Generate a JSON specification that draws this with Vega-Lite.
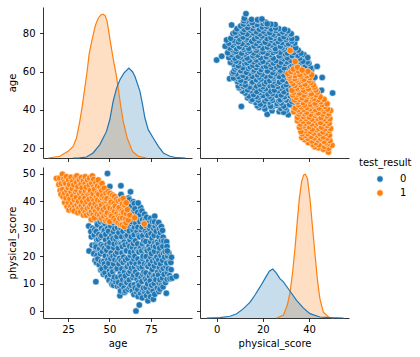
{
  "$schema": "https://vega.github.io/schema/vega-lite/v6.json",
  "padding": {"left": 7, "top": 7, "right": 2, "bottom": 2},
  "config": {
    "font": "DejaVu Sans",
    "view": {"stroke": null},
    "axis": {"grid": false, "domainColor": "#000000", "domainWidth": 0.8, "tickColor": "#000000", "tickWidth": 0.8, "tickSize": 3.5, "labelFontSize": 10, "labelColor": "#000000", "titleFontSize": 10, "titleFontWeight": "normal", "titleColor": "#000000", "labelFlush": false, "labelOverlap": false},
    "axisX": {"labelPadding": 3, "titlePadding": 4},
    "axisY": {"labelPadding": 4.5, "titlePadding": 5}
  },
  "datasets": {
    "kde_age": [
      {"x": 13.1, "d": 0, "result": "1"}, {"x": 20.0, "d": 0.012, "result": "1"}, {"x": 25.0, "d": 0.046, "result": "1"}, {"x": 28.1, "d": 0.081, "result": "1"}, {"x": 30.1, "d": 0.139, "result": "1"}, {"x": 32.1, "d": 0.255, "result": "1"}, {"x": 33.7, "d": 0.37, "result": "1"}, {"x": 35.1, "d": 0.486, "result": "1"}, {"x": 36.5, "d": 0.6, "result": "1"}, {"x": 37.7, "d": 0.72, "result": "1"}, {"x": 39.7, "d": 0.833, "result": "1"}, {"x": 41.6, "d": 0.926, "result": "1"}, {"x": 43.2, "d": 0.972, "result": "1"}, {"x": 44.8, "d": 0.995, "result": "1"}, {"x": 46.2, "d": 1.0, "result": "1"}, {"x": 47.4, "d": 0.99, "result": "1"}, {"x": 48.6, "d": 0.95, "result": "1"}, {"x": 50.2, "d": 0.833, "result": "1"}, {"x": 51.8, "d": 0.72, "result": "1"}, {"x": 52.9, "d": 0.65, "result": "1"}, {"x": 53.9, "d": 0.59, "result": "1"}, {"x": 55.3, "d": 0.486, "result": "1"}, {"x": 56.7, "d": 0.37, "result": "1"}, {"x": 58.3, "d": 0.255, "result": "1"}, {"x": 60.7, "d": 0.139, "result": "1"}, {"x": 63.9, "d": 0.046, "result": "1"}, {"x": 67.4, "d": 0.012, "result": "1"}, {"x": 72.4, "d": 0, "result": "1"},
      {"x": 28.0, "d": 0, "result": "0"}, {"x": 32.0, "d": 0.001, "result": "0"}, {"x": 36.1, "d": 0.007, "result": "0"}, {"x": 40.1, "d": 0.035, "result": "0"}, {"x": 44.2, "d": 0.093, "result": "0"}, {"x": 48.2, "d": 0.185, "result": "0"}, {"x": 50.2, "d": 0.266, "result": "0"}, {"x": 52.2, "d": 0.394, "result": "0"}, {"x": 54.3, "d": 0.486, "result": "0"}, {"x": 56.3, "d": 0.544, "result": "0"}, {"x": 58.7, "d": 0.59, "result": "0"}, {"x": 61.7, "d": 0.625, "result": "0"}, {"x": 63.9, "d": 0.6, "result": "0"}, {"x": 65.4, "d": 0.567, "result": "0"}, {"x": 68.4, "d": 0.463, "result": "0"}, {"x": 70.0, "d": 0.37, "result": "0"}, {"x": 71.4, "d": 0.278, "result": "0"}, {"x": 73.4, "d": 0.197, "result": "0"}, {"x": 76.4, "d": 0.139, "result": "0"}, {"x": 79.5, "d": 0.081, "result": "0"}, {"x": 82.5, "d": 0.035, "result": "0"}, {"x": 86.5, "d": 0.012, "result": "0"}, {"x": 90.6, "d": 0.002, "result": "0"}, {"x": 95.8, "d": 0, "result": "0"}
    ],
    "kde_ps": [
      {"x": 26.0, "d": 0, "result": "1"}, {"x": 28.9, "d": 0.02, "result": "1"}, {"x": 30.6, "d": 0.09, "result": "1"}, {"x": 31.8, "d": 0.18, "result": "1"}, {"x": 32.9, "d": 0.32, "result": "1"}, {"x": 33.9, "d": 0.48, "result": "1"}, {"x": 34.9, "d": 0.67, "result": "1"}, {"x": 35.8, "d": 0.83, "result": "1"}, {"x": 36.8, "d": 0.95, "result": "1"}, {"x": 37.7, "d": 0.995, "result": "1"}, {"x": 38.4, "d": 1.0, "result": "1"}, {"x": 39.3, "d": 0.97, "result": "1"}, {"x": 40.4, "d": 0.83, "result": "1"}, {"x": 41.4, "d": 0.65, "result": "1"}, {"x": 42.6, "d": 0.44, "result": "1"}, {"x": 43.6, "d": 0.27, "result": "1"}, {"x": 44.7, "d": 0.135, "result": "1"}, {"x": 46.2, "d": 0.04, "result": "1"}, {"x": 48.4, "d": 0.007, "result": "1"}, {"x": 50.5, "d": 0, "result": "1"},
      {"x": -4.3, "d": 0, "result": "0"}, {"x": 1.5, "d": 0.002, "result": "0"}, {"x": 5.8, "d": 0.012, "result": "0"}, {"x": 8.7, "d": 0.03, "result": "0"}, {"x": 11.6, "d": 0.065, "result": "0"}, {"x": 14.5, "d": 0.11, "result": "0"}, {"x": 16.6, "d": 0.16, "result": "0"}, {"x": 18.8, "d": 0.216, "result": "0"}, {"x": 20.9, "d": 0.274, "result": "0"}, {"x": 22.8, "d": 0.326, "result": "0"}, {"x": 24.3, "d": 0.34, "result": "0"}, {"x": 25.7, "d": 0.316, "result": "0"}, {"x": 27.4, "d": 0.274, "result": "0"}, {"x": 28.9, "d": 0.251, "result": "0"}, {"x": 31.8, "d": 0.186, "result": "0"}, {"x": 34.6, "d": 0.123, "result": "0"}, {"x": 37.5, "d": 0.07, "result": "0"}, {"x": 40.4, "d": 0.03, "result": "0"}, {"x": 44.7, "d": 0.007, "result": "0"}, {"x": 49.1, "d": 0.002, "result": "0"}, {"x": 54.9, "d": 0, "result": "0"}
    ],
    "pts": [
      {"age": 37.7, "score": 21.9, "result": "0"}, {"age": 39.1, "score": 27.1, "result": "0"}, {"age": 37.5, "score": 31.0, "result": "0"}, {"age": 39.0, "score": 33.5, "result": "0"}, {"age": 41.8, "score": 10.7, "result": "0"}, {"age": 41.8, "score": 22.3, "result": "0"},
      {"age": 39.6, "score": 24.0, "result": "0"}, {"age": 39.8, "score": 30.2, "result": "0"}, {"age": 38.8, "score": 29.0, "result": "0"},
      {"age": 41.3, "score": 18.4, "result": "0"}, {"age": 40.5, "score": 20.9, "result": "0"}, {"age": 41.6, "score": 24.2, "result": "0"}, {"age": 40.8, "score": 27.7, "result": "0"}, {"age": 41.1, "score": 29.7, "result": "0"}, {"age": 40.3, "score": 33.5, "result": "0"},
      {"age": 42.2, "score": 17.6, "result": "0"}, {"age": 42.5, "score": 20.3, "result": "0"}, {"age": 41.9, "score": 23.4, "result": "0"}, {"age": 42.4, "score": 26.0, "result": "0"}, {"age": 42.0, "score": 29.0, "result": "0"}, {"age": 42.6, "score": 32.0, "result": "0"}, {"age": 42.1, "score": 35.2, "result": "0"},
      {"age": 43.8, "score": 16.9, "result": "0"}, {"age": 43.0, "score": 19.0, "result": "0"}, {"age": 44.1, "score": 22.7, "result": "0"}, {"age": 43.3, "score": 26.2, "result": "0"}, {"age": 43.6, "score": 27.9, "result": "0"}, {"age": 42.8, "score": 31.5, "result": "0"}, {"age": 43.9, "score": 33.8, "result": "0"}, {"age": 43.2, "score": 37.6, "result": "0"},
      {"age": 44.8, "score": 15.0, "result": "0"}, {"age": 45.1, "score": 18.1, "result": "0"}, {"age": 44.6, "score": 20.9, "result": "0"}, {"age": 45.0, "score": 24.2, "result": "0"}, {"age": 44.7, "score": 26.9, "result": "0"}, {"age": 45.2, "score": 30.2, "result": "0"}, {"age": 44.5, "score": 32.6, "result": "0"}, {"age": 45.0, "score": 36.0, "result": "0"}, {"age": 44.8, "score": 38.8, "result": "0"},
      {"age": 46.3, "score": 13.4, "result": "0"}, {"age": 45.5, "score": 15.4, "result": "0"}, {"age": 46.6, "score": 18.2, "result": "0"}, {"age": 45.8, "score": 21.7, "result": "0"}, {"age": 46.1, "score": 23.7, "result": "0"}, {"age": 45.3, "score": 27.5, "result": "0"}, {"age": 46.4, "score": 29.2, "result": "0"}, {"age": 45.7, "score": 33.1, "result": "0"}, {"age": 46.7, "score": 35.6, "result": "0"}, {"age": 45.9, "score": 39.6, "result": "0"}, {"age": 46.2, "score": 40.8, "result": "0"},
      {"age": 47.3, "score": 13.9, "result": "0"}, {"age": 47.0, "score": 17.2, "result": "0"}, {"age": 47.5, "score": 20.1, "result": "0"}, {"age": 47.1, "score": 22.9, "result": "0"}, {"age": 47.6, "score": 26.0, "result": "0"}, {"age": 47.0, "score": 29.5, "result": "0"}, {"age": 47.4, "score": 31.8, "result": "0"}, {"age": 47.1, "score": 34.9, "result": "0"}, {"age": 47.5, "score": 38.0, "result": "0"},
      {"age": 48.8, "score": 12.4, "result": "0"}, {"age": 48.0, "score": 16.0, "result": "0"}, {"age": 49.1, "score": 18.7, "result": "0"}, {"age": 48.3, "score": 22.2, "result": "0"}, {"age": 48.6, "score": 24.2, "result": "0"}, {"age": 47.8, "score": 28.0, "result": "0"}, {"age": 48.9, "score": 30.2, "result": "0"}, {"age": 48.2, "score": 33.1, "result": "0"}, {"age": 49.2, "score": 36.6, "result": "0"}, {"age": 48.4, "score": 38.4, "result": "0"}, {"age": 48.7, "score": 41.8, "result": "0"}, {"age": 48.2, "score": 44.2, "result": "0"}, {"age": 48.8, "score": 50.2, "result": "0"},
      {"age": 49.8, "score": 11.2, "result": "0"}, {"age": 50.0, "score": 14.6, "result": "0"}, {"age": 49.6, "score": 17.4, "result": "0"}, {"age": 50.1, "score": 20.2, "result": "0"}, {"age": 49.7, "score": 23.4, "result": "0"}, {"age": 50.0, "score": 26.5, "result": "0"}, {"age": 49.5, "score": 29.1, "result": "0"}, {"age": 49.9, "score": 32.4, "result": "0"}, {"age": 50.1, "score": 35.2, "result": "0"}, {"age": 49.7, "score": 38.1, "result": "0"}, {"age": 50.0, "score": 40.3, "result": "0"},
      {"age": 51.3, "score": 10.1, "result": "0"}, {"age": 50.5, "score": 13.4, "result": "0"}, {"age": 51.6, "score": 15.7, "result": "0"}, {"age": 50.8, "score": 19.2, "result": "0"}, {"age": 51.1, "score": 21.2, "result": "0"}, {"age": 50.3, "score": 25.0, "result": "0"}, {"age": 51.4, "score": 27.7, "result": "0"}, {"age": 50.7, "score": 31.1, "result": "0"}, {"age": 51.7, "score": 33.1, "result": "0"}, {"age": 50.9, "score": 36.6, "result": "0"}, {"age": 51.2, "score": 39.3, "result": "0"}, {"age": 50.4, "score": 41.4, "result": "0"}, {"age": 50.2, "score": 45.4, "result": "0"}, {"age": 51.6, "score": 9.7, "result": "0"}, {"age": 52.5, "score": 9.4, "result": "0"},
      {"age": 52.3, "score": 11.5, "result": "0"}, {"age": 52.0, "score": 14.3, "result": "0"}, {"age": 52.5, "score": 17.2, "result": "0"}, {"age": 52.1, "score": 20.0, "result": "0"}, {"age": 52.6, "score": 23.1, "result": "0"}, {"age": 52.2, "score": 26.4, "result": "0"}, {"age": 52.4, "score": 29.0, "result": "0"}, {"age": 52.0, "score": 32.2, "result": "0"}, {"age": 52.6, "score": 34.9, "result": "0"}, {"age": 52.2, "score": 38.1, "result": "0"}, {"age": 52.4, "score": 40.2, "result": "0"},
      {"age": 53.8, "score": 10.6, "result": "0"}, {"age": 53.0, "score": 12.4, "result": "0"}, {"age": 54.1, "score": 15.2, "result": "0"}, {"age": 53.3, "score": 18.7, "result": "0"}, {"age": 53.6, "score": 20.7, "result": "0"}, {"age": 52.8, "score": 24.5, "result": "0"}, {"age": 53.9, "score": 26.2, "result": "0"}, {"age": 53.2, "score": 30.1, "result": "0"}, {"age": 54.2, "score": 32.6, "result": "0"}, {"age": 53.4, "score": 35.6, "result": "0"}, {"age": 53.7, "score": 37.8, "result": "0"}, {"age": 52.9, "score": 41.3, "result": "0"},
      {"age": 54.8, "score": 9.0, "result": "0"}, {"age": 55.0, "score": 12.3, "result": "0"}, {"age": 54.6, "score": 15.5, "result": "0"}, {"age": 55.1, "score": 18.2, "result": "0"}, {"age": 54.7, "score": 21.5, "result": "0"}, {"age": 55.0, "score": 24.6, "result": "0"}, {"age": 54.5, "score": 27.2, "result": "0"}, {"age": 54.9, "score": 30.4, "result": "0"}, {"age": 55.1, "score": 33.3, "result": "0"}, {"age": 54.6, "score": 36.4, "result": "0"}, {"age": 54.9, "score": 39.9, "result": "0"},
      {"age": 56.3, "score": 8.9, "result": "0"}, {"age": 55.5, "score": 10.4, "result": "0"}, {"age": 56.6, "score": 13.7, "result": "0"}, {"age": 55.8, "score": 17.2, "result": "0"}, {"age": 56.1, "score": 19.2, "result": "0"}, {"age": 55.3, "score": 23.0, "result": "0"}, {"age": 56.4, "score": 24.7, "result": "0"}, {"age": 55.7, "score": 28.6, "result": "0"}, {"age": 56.7, "score": 31.1, "result": "0"}, {"age": 55.9, "score": 34.1, "result": "0"}, {"age": 56.2, "score": 36.8, "result": "0"}, {"age": 55.4, "score": 39.3, "result": "0"}, {"age": 56.3, "score": 5.6, "result": "0"}, {"age": 56.7, "score": 7.3, "result": "0"}, {"age": 56.9, "score": 45.7, "result": "0"}, {"age": 55.8, "score": 41.5, "result": "0"},
      {"age": 57.3, "score": 9.6, "result": "0"}, {"age": 57.0, "score": 12.6, "result": "0"}, {"age": 57.5, "score": 15.4, "result": "0"}, {"age": 57.1, "score": 18.4, "result": "0"}, {"age": 57.6, "score": 21.2, "result": "0"}, {"age": 57.2, "score": 24.4, "result": "0"}, {"age": 57.4, "score": 27.1, "result": "0"}, {"age": 57.0, "score": 30.3, "result": "0"}, {"age": 57.6, "score": 32.8, "result": "0"}, {"age": 57.2, "score": 36.2, "result": "0"}, {"age": 57.4, "score": 38.9, "result": "0"}, {"age": 57.0, "score": 42.5, "result": "0"},
      {"age": 58.8, "score": 8.4, "result": "0"}, {"age": 58.0, "score": 11.4, "result": "0"}, {"age": 59.1, "score": 14.2, "result": "0"}, {"age": 58.3, "score": 17.7, "result": "0"}, {"age": 58.6, "score": 19.7, "result": "0"}, {"age": 57.8, "score": 23.5, "result": "0"}, {"age": 58.9, "score": 25.2, "result": "0"}, {"age": 58.2, "score": 29.1, "result": "0"}, {"age": 59.2, "score": 31.6, "result": "0"}, {"age": 58.4, "score": 34.6, "result": "0"}, {"age": 58.7, "score": 37.8, "result": "0"}, {"age": 57.9, "score": 40.3, "result": "0"}, {"age": 59.1, "score": 6.8, "result": "0"},
      {"age": 59.8, "score": 7.3, "result": "0"}, {"age": 60.0, "score": 10.9, "result": "0"}, {"age": 59.6, "score": 12.8, "result": "0"}, {"age": 60.1, "score": 15.9, "result": "0"}, {"age": 59.7, "score": 18.6, "result": "0"}, {"age": 60.0, "score": 21.8, "result": "0"}, {"age": 59.5, "score": 24.2, "result": "0"}, {"age": 59.9, "score": 27.3, "result": "0"}, {"age": 60.1, "score": 30.0, "result": "0"}, {"age": 59.7, "score": 33.1, "result": "0"}, {"age": 60.0, "score": 35.9, "result": "0"}, {"age": 59.6, "score": 38.5, "result": "0"}, {"age": 60.2, "score": 40.9, "result": "0"},
      {"age": 61.3, "score": 7.9, "result": "0"}, {"age": 60.5, "score": 10.4, "result": "0"}, {"age": 61.6, "score": 13.7, "result": "0"}, {"age": 60.8, "score": 16.2, "result": "0"}, {"age": 61.1, "score": 19.2, "result": "0"}, {"age": 60.3, "score": 22.0, "result": "0"}, {"age": 61.4, "score": 24.7, "result": "0"}, {"age": 60.7, "score": 27.6, "result": "0"}, {"age": 61.7, "score": 31.1, "result": "0"}, {"age": 60.9, "score": 34.1, "result": "0"}, {"age": 61.2, "score": 36.8, "result": "0"}, {"age": 60.4, "score": 39.3, "result": "0"}, {"age": 61.6, "score": 41.2, "result": "0"},
      {"age": 62.3, "score": 8.6, "result": "0"}, {"age": 62.0, "score": 11.3, "result": "0"}, {"age": 62.5, "score": 14.5, "result": "0"}, {"age": 62.1, "score": 17.1, "result": "0"}, {"age": 62.6, "score": 20.3, "result": "0"}, {"age": 62.2, "score": 23.6, "result": "0"}, {"age": 62.4, "score": 26.0, "result": "0"}, {"age": 62.0, "score": 29.2, "result": "0"}, {"age": 62.6, "score": 32.0, "result": "0"}, {"age": 62.2, "score": 35.0, "result": "0"}, {"age": 62.4, "score": 37.6, "result": "0"}, {"age": 62.0, "score": 40.6, "result": "0"},
      {"age": 63.8, "score": 7.4, "result": "0"}, {"age": 63.0, "score": 9.4, "result": "0"}, {"age": 64.1, "score": 12.2, "result": "0"}, {"age": 63.3, "score": 15.7, "result": "0"}, {"age": 63.6, "score": 17.7, "result": "0"}, {"age": 62.8, "score": 21.5, "result": "0"}, {"age": 63.9, "score": 23.2, "result": "0"}, {"age": 63.2, "score": 27.1, "result": "0"}, {"age": 64.2, "score": 29.6, "result": "0"}, {"age": 63.4, "score": 32.6, "result": "0"}, {"age": 63.7, "score": 35.3, "result": "0"}, {"age": 62.9, "score": 38.3, "result": "0"}, {"age": 64.3, "score": 39.9, "result": "0"}, {"age": 62.7, "score": 43.5, "result": "0"},
      {"age": 64.8, "score": 6.0, "result": "0"}, {"age": 65.0, "score": 9.6, "result": "0"}, {"age": 64.6, "score": 13.1, "result": "0"}, {"age": 65.1, "score": 16.0, "result": "0"}, {"age": 64.7, "score": 19.0, "result": "0"}, {"age": 65.0, "score": 21.6, "result": "0"}, {"age": 64.5, "score": 24.6, "result": "0"}, {"age": 64.9, "score": 27.8, "result": "0"}, {"age": 65.1, "score": 30.6, "result": "0"}, {"age": 64.6, "score": 33.5, "result": "0"}, {"age": 64.9, "score": 36.4, "result": "0"}, {"age": 65.0, "score": 39.2, "result": "0"},
      {"age": 66.3, "score": 6.9, "result": "0"}, {"age": 65.5, "score": 8.4, "result": "0"}, {"age": 66.6, "score": 11.7, "result": "0"}, {"age": 65.8, "score": 14.2, "result": "0"}, {"age": 66.1, "score": 17.2, "result": "0"}, {"age": 65.3, "score": 20.0, "result": "0"}, {"age": 66.4, "score": 22.7, "result": "0"}, {"age": 65.7, "score": 25.6, "result": "0"}, {"age": 66.7, "score": 29.1, "result": "0"}, {"age": 65.9, "score": 32.1, "result": "0"}, {"age": 66.2, "score": 34.8, "result": "0"}, {"age": 65.4, "score": 37.3, "result": "0"}, {"age": 66.0, "score": 0.0, "result": "0"},
      {"age": 67.3, "score": 5.3, "result": "0"}, {"age": 67.0, "score": 7.9, "result": "0"}, {"age": 67.5, "score": 10.3, "result": "0"}, {"age": 67.1, "score": 13.2, "result": "0"}, {"age": 67.6, "score": 16.1, "result": "0"}, {"age": 67.2, "score": 19.0, "result": "0"}, {"age": 67.4, "score": 21.9, "result": "0"}, {"age": 67.0, "score": 24.5, "result": "0"}, {"age": 67.6, "score": 27.6, "result": "0"}, {"age": 67.2, "score": 30.6, "result": "0"}, {"age": 67.4, "score": 33.4, "result": "0"}, {"age": 67.0, "score": 36.0, "result": "0"},
      {"age": 68.8, "score": 6.4, "result": "0"}, {"age": 68.0, "score": 9.4, "result": "0"}, {"age": 69.1, "score": 12.2, "result": "0"}, {"age": 68.3, "score": 15.7, "result": "0"}, {"age": 68.6, "score": 17.7, "result": "0"}, {"age": 67.8, "score": 21.5, "result": "0"}, {"age": 68.9, "score": 23.2, "result": "0"}, {"age": 68.2, "score": 27.1, "result": "0"}, {"age": 69.2, "score": 29.6, "result": "0"}, {"age": 68.4, "score": 32.6, "result": "0"}, {"age": 68.5, "score": 35.2, "result": "0"}, {"age": 68.8, "score": 37.8, "result": "0"}, {"age": 68.0, "score": 2.2, "result": "0"}, {"age": 67.3, "score": 39.4, "result": "0"},
      {"age": 69.8, "score": 4.8, "result": "0"}, {"age": 70.0, "score": 7.6, "result": "0"}, {"age": 69.6, "score": 10.8, "result": "0"}, {"age": 70.1, "score": 13.4, "result": "0"}, {"age": 69.7, "score": 16.0, "result": "0"}, {"age": 70.0, "score": 19.1, "result": "0"}, {"age": 69.5, "score": 21.9, "result": "0"}, {"age": 69.9, "score": 24.5, "result": "0"}, {"age": 70.1, "score": 27.5, "result": "0"}, {"age": 69.7, "score": 30.6, "result": "0"}, {"age": 70.0, "score": 33.3, "result": "0"}, {"age": 69.6, "score": 36.5, "result": "0"},
      {"age": 71.3, "score": 6.9, "result": "0"}, {"age": 70.5, "score": 8.4, "result": "0"}, {"age": 71.6, "score": 11.7, "result": "0"}, {"age": 70.8, "score": 14.2, "result": "0"}, {"age": 71.1, "score": 17.2, "result": "0"}, {"age": 70.3, "score": 20.0, "result": "0"}, {"age": 71.4, "score": 22.7, "result": "0"}, {"age": 70.7, "score": 25.6, "result": "0"}, {"age": 71.7, "score": 29.1, "result": "0"}, {"age": 70.9, "score": 32.1, "result": "0"}, {"age": 71.2, "score": 35.3, "result": "0"},
      {"age": 72.3, "score": 5.6, "result": "0"}, {"age": 72.0, "score": 8.6, "result": "0"}, {"age": 72.5, "score": 11.1, "result": "0"}, {"age": 72.1, "score": 13.9, "result": "0"}, {"age": 72.6, "score": 16.8, "result": "0"}, {"age": 72.2, "score": 19.9, "result": "0"}, {"age": 72.4, "score": 22.5, "result": "0"}, {"age": 72.0, "score": 25.4, "result": "0"}, {"age": 72.6, "score": 28.4, "result": "0"}, {"age": 72.2, "score": 31.1, "result": "0"}, {"age": 71.8, "score": 33.5, "result": "0"},
      {"age": 73.8, "score": 6.9, "result": "0"}, {"age": 73.0, "score": 9.9, "result": "0"}, {"age": 74.1, "score": 12.7, "result": "0"}, {"age": 73.3, "score": 16.2, "result": "0"}, {"age": 73.6, "score": 18.2, "result": "0"}, {"age": 72.8, "score": 22.0, "result": "0"}, {"age": 73.9, "score": 23.7, "result": "0"}, {"age": 73.2, "score": 27.6, "result": "0"}, {"age": 74.2, "score": 30.1, "result": "0"}, {"age": 73.4, "score": 33.1, "result": "0"}, {"age": 73.2, "score": 3.7, "result": "0"}, {"age": 72.4, "score": 34.2, "result": "0"},
      {"age": 74.8, "score": 5.2, "result": "0"}, {"age": 75.0, "score": 8.2, "result": "0"}, {"age": 74.6, "score": 11.0, "result": "0"}, {"age": 75.1, "score": 13.8, "result": "0"}, {"age": 74.7, "score": 17.1, "result": "0"}, {"age": 75.0, "score": 19.6, "result": "0"}, {"age": 74.5, "score": 22.4, "result": "0"}, {"age": 74.9, "score": 25.3, "result": "0"}, {"age": 75.1, "score": 28.2, "result": "0"}, {"age": 74.6, "score": 31.1, "result": "0"}, {"age": 74.9, "score": 33.8, "result": "0"},
      {"age": 76.3, "score": 7.4, "result": "0"}, {"age": 75.5, "score": 9.4, "result": "0"}, {"age": 76.6, "score": 12.7, "result": "0"}, {"age": 75.8, "score": 15.2, "result": "0"}, {"age": 76.1, "score": 18.2, "result": "0"}, {"age": 75.3, "score": 21.0, "result": "0"}, {"age": 76.4, "score": 23.7, "result": "0"}, {"age": 75.7, "score": 26.6, "result": "0"}, {"age": 76.7, "score": 30.1, "result": "0"}, {"age": 75.9, "score": 32.6, "result": "0"}, {"age": 77.3, "score": 34.6, "result": "0"}, {"age": 76.5, "score": 4.3, "result": "0"},
      {"age": 77.3, "score": 6.1, "result": "0"}, {"age": 77.0, "score": 10.0, "result": "0"}, {"age": 77.5, "score": 13.0, "result": "0"}, {"age": 77.1, "score": 16.4, "result": "0"}, {"age": 77.6, "score": 19.0, "result": "0"}, {"age": 77.2, "score": 21.8, "result": "0"}, {"age": 77.4, "score": 24.9, "result": "0"}, {"age": 77.0, "score": 27.6, "result": "0"}, {"age": 77.6, "score": 30.9, "result": "0"}, {"age": 77.2, "score": 32.5, "result": "0"},
      {"age": 78.8, "score": 8.4, "result": "0"}, {"age": 78.0, "score": 11.4, "result": "0"}, {"age": 79.1, "score": 14.2, "result": "0"}, {"age": 78.3, "score": 17.7, "result": "0"}, {"age": 78.6, "score": 19.7, "result": "0"}, {"age": 77.8, "score": 23.5, "result": "0"}, {"age": 78.9, "score": 25.2, "result": "0"}, {"age": 78.2, "score": 29.1, "result": "0"}, {"age": 79.2, "score": 31.6, "result": "0"},
      {"age": 79.8, "score": 7.1, "result": "0"}, {"age": 80.0, "score": 10.2, "result": "0"}, {"age": 79.6, "score": 13.1, "result": "0"}, {"age": 80.1, "score": 15.9, "result": "0"}, {"age": 79.7, "score": 18.6, "result": "0"}, {"age": 80.0, "score": 21.4, "result": "0"}, {"age": 79.5, "score": 24.4, "result": "0"}, {"age": 79.9, "score": 27.1, "result": "0"}, {"age": 80.1, "score": 29.9, "result": "0"}, {"age": 79.7, "score": 32.3, "result": "0"},
      {"age": 81.3, "score": 9.4, "result": "0"}, {"age": 80.5, "score": 11.4, "result": "0"}, {"age": 81.6, "score": 14.7, "result": "0"}, {"age": 80.8, "score": 17.2, "result": "0"}, {"age": 81.1, "score": 20.2, "result": "0"}, {"age": 80.3, "score": 23.0, "result": "0"}, {"age": 81.4, "score": 25.7, "result": "0"}, {"age": 80.7, "score": 28.6, "result": "0"}, {"age": 81.3, "score": 30.8, "result": "0"}, {"age": 80.5, "score": 8.0, "result": "0"},
      {"age": 82.3, "score": 8.8, "result": "0"}, {"age": 82.0, "score": 12.0, "result": "0"}, {"age": 82.5, "score": 15.5, "result": "0"}, {"age": 82.1, "score": 18.5, "result": "0"}, {"age": 82.6, "score": 21.0, "result": "0"}, {"age": 82.2, "score": 23.6, "result": "0"}, {"age": 82.4, "score": 26.9, "result": "0"}, {"age": 82.0, "score": 29.4, "result": "0"},
      {"age": 83.8, "score": 10.4, "result": "0"}, {"age": 83.0, "score": 13.4, "result": "0"}, {"age": 84.1, "score": 16.2, "result": "0"}, {"age": 83.3, "score": 19.7, "result": "0"}, {"age": 83.6, "score": 21.7, "result": "0"}, {"age": 82.8, "score": 25.5, "result": "0"}, {"age": 84.3, "score": 6.5, "result": "0"}, {"age": 84.5, "score": 25.3, "result": "0"},
      {"age": 84.8, "score": 11.6, "result": "0"}, {"age": 85.0, "score": 14.0, "result": "0"}, {"age": 84.6, "score": 17.5, "result": "0"}, {"age": 85.1, "score": 20.1, "result": "0"}, {"age": 84.7, "score": 23.5, "result": "0"},
      {"age": 86.3, "score": 12.9, "result": "0"}, {"age": 85.5, "score": 15.4, "result": "0"}, {"age": 86.6, "score": 18.2, "result": "0"}, {"age": 85.8, "score": 21.2, "result": "0"}, {"age": 84.9, "score": 21.9, "result": "0"}, {"age": 86.5, "score": 11.8, "result": "0"},
      {"age": 87.2, "score": 15.1, "result": "0"}, {"age": 87.0, "score": 17.7, "result": "0"}, {"age": 87.4, "score": 19.6, "result": "0"},
      {"age": 87.8, "score": 12.0, "result": "0"}, {"age": 90.2, "score": 12.7, "result": "0"},
      {"age": 18.0, "score": 48.4, "result": "1"}, {"age": 19.5, "score": 46.2, "result": "1"}, {"age": 20.3, "score": 44.0, "result": "1"}, {"age": 20.0, "score": 48.5, "result": "1"}, {"age": 20.8, "score": 42.5, "result": "1"},
      {"age": 21.6, "score": 49.9, "result": "1"}, {"age": 21.0, "score": 46.6, "result": "1"}, {"age": 22.0, "score": 41.7, "result": "1"}, {"age": 21.8, "score": 44.3, "result": "1"}, {"age": 22.3, "score": 48.0, "result": "1"},
      {"age": 22.8, "score": 47.1, "result": "1"}, {"age": 22.9, "score": 43.0, "result": "1"}, {"age": 23.0, "score": 39.6, "result": "1"},
      {"age": 24.0, "score": 49.0, "result": "1"}, {"age": 23.6, "score": 46.5, "result": "1"}, {"age": 24.3, "score": 44.0, "result": "1"}, {"age": 23.8, "score": 41.2, "result": "1"}, {"age": 24.5, "score": 38.1, "result": "1"},
      {"age": 25.3, "score": 47.8, "result": "1"}, {"age": 25.1, "score": 45.0, "result": "1"}, {"age": 25.4, "score": 42.2, "result": "1"}, {"age": 25.2, "score": 39.5, "result": "1"}, {"age": 25.6, "score": 36.9, "result": "1"},
      {"age": 26.8, "score": 48.8, "result": "1"}, {"age": 26.0, "score": 46.1, "result": "1"}, {"age": 26.9, "score": 43.5, "result": "1"}, {"age": 26.2, "score": 40.9, "result": "1"}, {"age": 26.6, "score": 38.3, "result": "1"},
      {"age": 27.8, "score": 47.3, "result": "1"}, {"age": 27.6, "score": 44.7, "result": "1"}, {"age": 27.9, "score": 42.0, "result": "1"}, {"age": 27.7, "score": 39.4, "result": "1"}, {"age": 27.5, "score": 37.0, "result": "1"},
      {"age": 29.3, "score": 48.7, "result": "1"}, {"age": 28.5, "score": 46.0, "result": "1"}, {"age": 29.6, "score": 43.4, "result": "1"}, {"age": 28.8, "score": 40.6, "result": "1"}, {"age": 29.1, "score": 38.2, "result": "1"}, {"age": 28.7, "score": 36.5, "result": "1"},
      {"age": 30.3, "score": 49.3, "result": "1"}, {"age": 30.1, "score": 46.8, "result": "1"}, {"age": 30.4, "score": 44.1, "result": "1"}, {"age": 30.0, "score": 41.4, "result": "1"}, {"age": 30.5, "score": 38.8, "result": "1"},
      {"age": 31.8, "score": 47.9, "result": "1"}, {"age": 31.0, "score": 45.4, "result": "1"}, {"age": 32.1, "score": 42.8, "result": "1"}, {"age": 31.3, "score": 40.0, "result": "1"}, {"age": 31.6, "score": 37.6, "result": "1"}, {"age": 30.9, "score": 35.9, "result": "1"},
      {"age": 33.0, "score": 48.7, "result": "1"}, {"age": 32.8, "score": 46.2, "result": "1"}, {"age": 33.1, "score": 43.6, "result": "1"}, {"age": 32.7, "score": 41.1, "result": "1"}, {"age": 33.0, "score": 38.5, "result": "1"}, {"age": 32.6, "score": 36.2, "result": "1"},
      {"age": 34.3, "score": 47.6, "result": "1"}, {"age": 33.5, "score": 45.0, "result": "1"}, {"age": 34.6, "score": 42.3, "result": "1"}, {"age": 33.8, "score": 39.9, "result": "1"}, {"age": 34.1, "score": 37.3, "result": "1"}, {"age": 34.3, "score": 35.0, "result": "1"},
      {"age": 35.4, "score": 49.0, "result": "1"}, {"age": 35.3, "score": 46.4, "result": "1"}, {"age": 35.6, "score": 43.8, "result": "1"}, {"age": 35.2, "score": 41.2, "result": "1"}, {"age": 35.5, "score": 38.7, "result": "1"}, {"age": 35.3, "score": 36.1, "result": "1"},
      {"age": 36.8, "score": 47.8, "result": "1"}, {"age": 36.0, "score": 45.2, "result": "1"}, {"age": 37.1, "score": 42.6, "result": "1"}, {"age": 36.3, "score": 40.0, "result": "1"}, {"age": 36.6, "score": 37.5, "result": "1"}, {"age": 36.1, "score": 35.0, "result": "1"},
      {"age": 38.0, "score": 48.5, "result": "1"}, {"age": 37.8, "score": 45.9, "result": "1"}, {"age": 38.1, "score": 43.3, "result": "1"}, {"age": 37.7, "score": 40.7, "result": "1"}, {"age": 38.0, "score": 38.0, "result": "1"}, {"age": 37.9, "score": 35.6, "result": "1"},
      {"age": 39.7, "score": 49.3, "result": "1"}, {"age": 39.3, "score": 46.6, "result": "1"}, {"age": 38.5, "score": 44.0, "result": "1"}, {"age": 39.6, "score": 41.5, "result": "1"}, {"age": 38.8, "score": 38.9, "result": "1"}, {"age": 39.1, "score": 36.2, "result": "1"}, {"age": 39.1, "score": 33.4, "result": "1"},
      {"age": 40.4, "score": 48.0, "result": "1"}, {"age": 40.5, "score": 45.3, "result": "1"}, {"age": 40.2, "score": 42.8, "result": "1"}, {"age": 40.6, "score": 40.3, "result": "1"}, {"age": 40.3, "score": 37.7, "result": "1"}, {"age": 40.1, "score": 35.1, "result": "1"},
      {"age": 41.8, "score": 46.9, "result": "1"}, {"age": 41.0, "score": 44.4, "result": "1"}, {"age": 42.1, "score": 41.7, "result": "1"}, {"age": 41.3, "score": 39.1, "result": "1"}, {"age": 41.6, "score": 36.6, "result": "1"}, {"age": 40.9, "score": 34.0, "result": "1"},
      {"age": 42.8, "score": 45.6, "result": "1"}, {"age": 42.6, "score": 43.0, "result": "1"}, {"age": 42.9, "score": 40.5, "result": "1"}, {"age": 42.5, "score": 38.0, "result": "1"}, {"age": 42.7, "score": 35.4, "result": "1"},
      {"age": 43.2, "score": 47.8, "result": "1"}, {"age": 44.3, "score": 45.2, "result": "1"}, {"age": 43.5, "score": 42.6, "result": "1"}, {"age": 44.6, "score": 40.1, "result": "1"}, {"age": 43.8, "score": 37.4, "result": "1"}, {"age": 44.1, "score": 35.0, "result": "1"}, {"age": 45.2, "score": 33.8, "result": "1"},
      {"age": 45.5, "score": 46.5, "result": "1"}, {"age": 45.3, "score": 43.9, "result": "1"}, {"age": 45.6, "score": 41.3, "result": "1"}, {"age": 45.2, "score": 38.7, "result": "1"}, {"age": 45.5, "score": 36.1, "result": "1"},
      {"age": 46.8, "score": 44.8, "result": "1"}, {"age": 46.0, "score": 42.1, "result": "1"}, {"age": 47.1, "score": 39.6, "result": "1"}, {"age": 46.3, "score": 37.0, "result": "1"}, {"age": 46.6, "score": 34.4, "result": "1"}, {"age": 47.2, "score": 41.1, "result": "1"},
      {"age": 47.9, "score": 43.0, "result": "1"}, {"age": 48.0, "score": 40.3, "result": "1"}, {"age": 47.7, "score": 37.8, "result": "1"}, {"age": 48.1, "score": 35.2, "result": "1"}, {"age": 47.8, "score": 32.9, "result": "1"},
      {"age": 49.3, "score": 43.6, "result": "1"}, {"age": 48.5, "score": 41.0, "result": "1"}, {"age": 49.6, "score": 38.4, "result": "1"}, {"age": 48.8, "score": 35.8, "result": "1"}, {"age": 49.1, "score": 33.2, "result": "1"},
      {"age": 50.4, "score": 42.9, "result": "1"}, {"age": 50.6, "score": 40.3, "result": "1"}, {"age": 50.3, "score": 37.6, "result": "1"}, {"age": 50.7, "score": 35.1, "result": "1"},
      {"age": 51.8, "score": 42.3, "result": "1"}, {"age": 51.0, "score": 39.7, "result": "1"}, {"age": 52.1, "score": 37.2, "result": "1"}, {"age": 51.3, "score": 34.6, "result": "1"}, {"age": 50.2, "score": 32.6, "result": "1"},
      {"age": 53.0, "score": 41.8, "result": "1"}, {"age": 52.8, "score": 39.2, "result": "1"}, {"age": 53.1, "score": 36.4, "result": "1"}, {"age": 52.7, "score": 33.8, "result": "1"},
      {"age": 54.3, "score": 40.8, "result": "1"}, {"age": 53.5, "score": 38.2, "result": "1"}, {"age": 54.6, "score": 35.6, "result": "1"}, {"age": 53.8, "score": 33.0, "result": "1"},
      {"age": 55.4, "score": 40.1, "result": "1"}, {"age": 55.3, "score": 37.3, "result": "1"}, {"age": 55.6, "score": 34.6, "result": "1"}, {"age": 55.2, "score": 32.2, "result": "1"},
      {"age": 56.8, "score": 40.4, "result": "1"}, {"age": 56.0, "score": 37.8, "result": "1"}, {"age": 57.1, "score": 35.2, "result": "1"}, {"age": 56.3, "score": 33.8, "result": "1"}, {"age": 56.6, "score": 31.5, "result": "1"},
      {"age": 57.8, "score": 39.1, "result": "1"}, {"age": 57.6, "score": 36.5, "result": "1"}, {"age": 57.9, "score": 33.9, "result": "1"}, {"age": 57.7, "score": 31.4, "result": "1"},
      {"age": 58.3, "score": 41.1, "result": "1"}, {"age": 59.3, "score": 38.6, "result": "1"}, {"age": 58.5, "score": 36.0, "result": "1"}, {"age": 59.6, "score": 33.4, "result": "1"}, {"age": 58.9, "score": 30.8, "result": "1"},
      {"age": 60.1, "score": 39.5, "result": "1"}, {"age": 60.3, "score": 35.5, "result": "1"}, {"age": 60.0, "score": 32.2, "result": "1"},
      {"age": 61.3, "score": 33.2, "result": "1"}, {"age": 62.3, "score": 35.0, "result": "1"}, {"age": 60.8, "score": 37.0, "result": "1"}, {"age": 65.2, "score": 34.0, "result": "1"}, {"age": 71.0, "score": 31.8, "result": "1"}
    ]
  },
  "bounds": "flush",
  "columns": 2,
  "spacing": {"row": 9, "column": 8},
  "resolve": {"scale": {"color": "independent"}, "legend": {"color": "independent"}},
  "concat": [
    {
      "width": 149, "height": 151,
      "layer": [
        {"data": {"name": "kde_age"}, "mark": {"type": "area", "opacity": 0.25},
         "encoding": {
           "x": {"field": "x", "type": "quantitative", "scale": {"domain": [9.9, 99.8], "nice": false, "zero": false}, "axis": {"values": [25, 50, 75], "labels": false, "title": null}},
           "y": {"field": "d", "type": "quantitative", "stack": null, "scale": {"domain": [0, 1.05], "nice": false}, "axis": null},
           "color": {"field": "result", "type": "nominal", "scale": {"domain": ["0", "1"], "range": ["#1f77b4", "#ff7f0e"]}, "legend": null}}},
        {"data": {"name": "kde_age"}, "mark": {"type": "line", "strokeWidth": 1.2},
         "encoding": {
           "x": {"field": "x", "type": "quantitative", "scale": {"domain": [9.9, 99.8], "nice": false, "zero": false}},
           "y": {"field": "d", "type": "quantitative", "scale": {"domain": [0, 1.05], "nice": false}, "axis": null},
           "color": {"field": "result", "type": "nominal", "scale": {"domain": ["0", "1"], "range": ["#1f77b4", "#ff7f0e"]}, "legend": null}}},
        {"data": {"name": "pts"}, "mark": {"type": "point", "opacity": 0},
         "encoding": {
           "x": {"field": "age", "type": "quantitative", "scale": {"domain": [9.9, 99.8], "nice": false, "zero": false}},
           "y": {"field": "age", "type": "quantitative", "scale": {"domain": [14.9, 93.7], "nice": false, "zero": false}, "axis": {"values": [20, 40, 60, 80], "title": "age", "orient": "left"}}}}
      ],
      "resolve": {"scale": {"y": "independent"}}
    },
    {
      "width": 149, "height": 151,
      "data": {"name": "pts"},
      "mark": {"type": "circle", "size": 42, "opacity": 1, "stroke": "white", "strokeWidth": 0.5},
      "encoding": {
        "x": {"field": "score", "type": "quantitative", "scale": {"domain": [-7.2, 57.3], "nice": false, "zero": false}, "axis": {"values": [0, 20, 40], "labels": false, "title": null}},
        "y": {"field": "age", "type": "quantitative", "scale": {"domain": [14.9, 93.7], "nice": false, "zero": false}, "axis": {"values": [20, 40, 60, 80], "labels": false, "title": null}},
        "color": {"field": "result", "type": "nominal", "scale": {"domain": ["0", "1"], "range": ["#1f77b4", "#ff7f0e"]},
          "legend": {"title": "test_result", "orient": "none", "legendX": 159, "legendY": 151, "symbolType": "circle", "symbolSize": 40, "symbolStrokeColor": "white", "symbolStrokeWidth": 0.5, "symbolOffset": 16, "labelOffset": 15, "rowPadding": 4, "titlePadding": 6, "labelFontSize": 10, "titleFontSize": 10, "titleFontWeight": "normal", "labelColor": "#000000", "titleColor": "#000000"}}
      }
    },
    {
      "width": 149, "height": 151,
      "data": {"name": "pts"},
      "mark": {"type": "circle", "size": 42, "opacity": 1, "stroke": "white", "strokeWidth": 0.5},
      "encoding": {
        "x": {"field": "age", "type": "quantitative", "scale": {"domain": [9.9, 99.8], "nice": false, "zero": false}, "axis": {"values": [25, 50, 75], "title": "age"}},
        "y": {"field": "score", "type": "quantitative", "scale": {"domain": [-2.55, 52.55], "nice": false, "zero": false}, "axis": {"values": [0, 10, 20, 30, 40, 50], "title": "physical_score"}},
        "color": {"field": "result", "type": "nominal", "scale": {"domain": ["0", "1"], "range": ["#1f77b4", "#ff7f0e"]}, "legend": null}
      }
    },
    {
      "width": 149, "height": 151,
      "layer": [
        {"data": {"name": "kde_ps"}, "mark": {"type": "area", "opacity": 0.25},
         "encoding": {
           "x": {"field": "x", "type": "quantitative", "scale": {"domain": [-7.2, 57.3], "nice": false, "zero": false}, "axis": {"values": [0, 20, 40], "title": "physical_score"}},
           "y": {"field": "d", "type": "quantitative", "stack": null, "scale": {"domain": [0, 1.05], "nice": false}, "axis": null},
           "color": {"field": "result", "type": "nominal", "scale": {"domain": ["0", "1"], "range": ["#1f77b4", "#ff7f0e"]}, "legend": null}}},
        {"data": {"name": "kde_ps"}, "mark": {"type": "line", "strokeWidth": 1.2},
         "encoding": {
           "x": {"field": "x", "type": "quantitative", "scale": {"domain": [-7.2, 57.3], "nice": false, "zero": false}},
           "y": {"field": "d", "type": "quantitative", "scale": {"domain": [0, 1.05], "nice": false}, "axis": null},
           "color": {"field": "result", "type": "nominal", "scale": {"domain": ["0", "1"], "range": ["#1f77b4", "#ff7f0e"]}, "legend": null}}},
        {"data": {"name": "pts"}, "mark": {"type": "point", "opacity": 0},
         "encoding": {
           "x": {"field": "score", "type": "quantitative", "scale": {"domain": [-7.2, 57.3], "nice": false, "zero": false}},
           "y": {"field": "score", "type": "quantitative", "scale": {"domain": [-2.55, 52.55], "nice": false, "zero": false}, "axis": {"values": [0, 10, 20, 30, 40, 50], "labels": false, "title": null, "orient": "left"}}}}
      ],
      "resolve": {"scale": {"y": "independent"}}
    }
  ]
}
